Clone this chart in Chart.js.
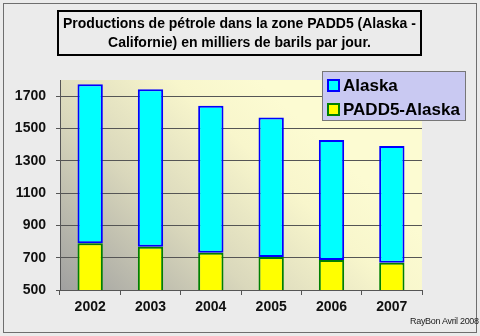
<!DOCTYPE html>
<html lang="fr">
<head>
  <meta charset="UTF-8">
  <title>Productions de pétrole PADD5</title>
  <script src="https://cdn.jsdelivr.net/npm/chart.js"></script>
  <style>
    html, body {
      margin: 0;
      padding: 0;
    }
    body {
      width: 480px;
      height: 336px;
      background-color: #ebebeb;
      font-family: Arial, "Liberation Sans", sans-serif;
      position: relative;
      overflow: hidden;
    }
    #frame {
      position: absolute;
      left: 3px;
      top: 3px;
      width: 472px;
      height: 328px;
      border: 1px solid #6e6e6e;
    }
    canvas {
      position: absolute;
      left: 0;
      top: 0;
    }
    #title {
      position: absolute;
      left: 57px;
      top: 10px;
      width: 361px;
      height: 40px;
      border: 2px solid #000;
      font-weight: bold;
      font-size: 14px;
      line-height: 19px;
      text-align: center;
      padding-top: 2px;
      box-sizing: content-box;
      color: #000;
      white-space: nowrap;
    }
    #legend {
      position: absolute;
      left: 322px;
      top: 71px;
      width: 142px;
      height: 48px;
      background: #c9c9f2;
      border: 1px solid #777;
      font-weight: bold;
      font-size: 17px;
    }
    .item {
      position: absolute;
      left: 4px;
      height: 20px;
      line-height: 20px;
      white-space: nowrap;
    }
    .sw {
      display: inline-block;
      width: 9px;
      height: 9px;
      border: 2px solid;
      vertical-align: middle;
      margin-right: 3px;
      position: relative;
      top: -1px;
    }
    #credit {
      position: absolute;
      left: 410px;
      top: 316px;
      font-size: 9px;
      color: #222;
      letter-spacing: -0.3px;
    }
  </style>
</head>
<body>
  <canvas id="chart" width="480" height="336"></canvas>
  <div id="frame"></div>
  <div id="title">Productions de pétrole dans la zone PADD5 (Alaska -<br>Californie) en milliers de barils par jour.</div>
  <div id="legend"></div>
  <div id="credit">RayBon Avril 2008</div>

  <script>
    // values (milliers de barils par jour)
    const years = ["2002", "2003", "2004", "2005", "2006", "2007"];
    const padd5Alaska = [789, 768, 731, 704, 686, 669];
    const alaska = [985, 975, 909, 864, 742, 723];
    const yTicks = [500, 700, 900, 1100, 1300, 1500, 1700];

    const seriesStyle = [
      { label: "Alaska", fill: "#00ffff", line: "#0000ff" },
      { label: "PADD5-Alaska", fill: "#ffff00", line: "#008000" }
    ];

    // html legend
    const legend = document.getElementById('legend');
    seriesStyle.forEach((s, i) => {
      const d = document.createElement('div');
      d.className = 'item';
      d.style.top = (4 + i * 24) + 'px';
      d.innerHTML = `<span class="sw" style="background:${s.fill};border-color:${s.line}"></span>${s.label}`;
      legend.appendChild(d);
    });

    // gradient behind the plot area
    const plotBg = {
      id: 'plotBg',
      beforeDraw(chart) {
        const { ctx, chartArea: a } = chart;
        const g = ctx.createLinearGradient(a.left, a.bottom, a.left + a.width * 0.55, a.top);
        g.addColorStop(0, '#a0a0a0');
        g.addColorStop(0.45, '#dad8bc');
        g.addColorStop(0.8, '#f8f6cc');
        g.addColorStop(1, '#fcfbd2');
        ctx.save();
        ctx.fillStyle = g;
        ctx.fillRect(a.left, a.top, a.width, a.height);
        ctx.restore();
      }
    };

    const ctx = document.getElementById('chart').getContext('2d');
    new Chart(ctx, {
      type: 'bar',
      data: {
        labels: years,
        datasets: [
          {
            label: "PADD5-Alaska",
            data: padd5Alaska,
            backgroundColor: "#ffff00",
            borderColor: "#008000",
            borderWidth: 2,
            borderSkipped: false
          },
          {
            label: "Alaska",
            data: alaska,
            backgroundColor: "#00ffff",
            borderColor: "#0000ff",
            borderWidth: 2,
            borderSkipped: false
          }
        ]
      },
      options: {
        responsive: false,
        animation: false,
        barPercentage: 0.42,
        categoryPercentage: 1,
        layout: { padding: { top: 80, right: 58, left: 0, bottom: 0 } },
        scales: {
          x: {
            stacked: true,
            grid: {
              drawOnChartArea: false,
              drawTicks: true,
              tickLength: 5,
              color: '#555'
            },
            border: { color: '#555', width: 1 },
            ticks: {
              color: '#111',
              font: { family: 'Arial', size: 14, weight: 'bold' },
              padding: 4
            },
            afterFit(scale) { scale.height = 46; }
          },
          y: {
            stacked: true,
            min: 500,
            max: 1800,
            afterBuildTicks(scale) {
              scale.ticks = yTicks.map(v => ({ value: v }));
            },
            grid: {
              color: '#555',
              lineWidth: 1,
              tickLength: 4
            },
            border: { color: '#555', width: 1 },
            ticks: {
              color: '#111',
              font: { family: 'Arial', size: 14, weight: 'bold' },
              padding: 10,
              callback: v => String(v)
            },
            afterFit(scale) { scale.width = 60; }
          }
        },
        plugins: {
          legend: { display: false },
          title: { display: false },
          tooltip: { enabled: false }
        }
      },
      plugins: [plotBg]
    });
  </script>
</body>
</html>
